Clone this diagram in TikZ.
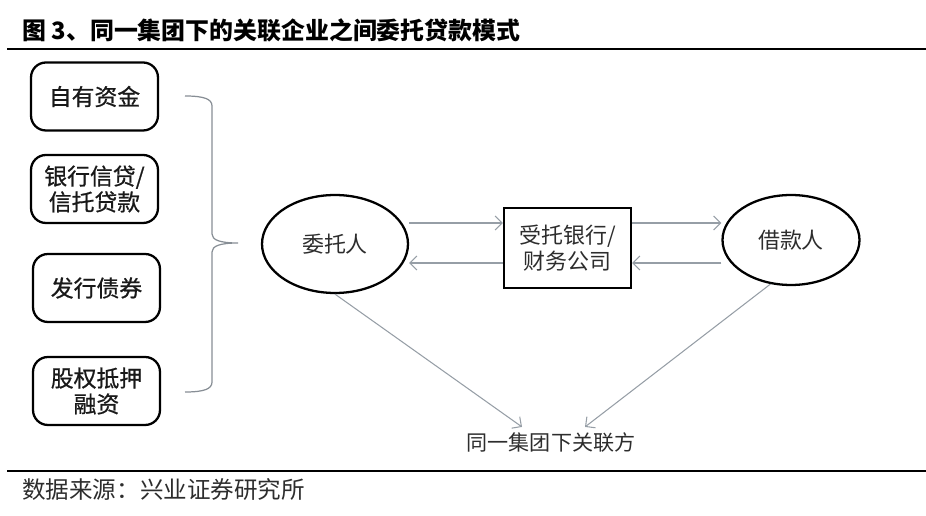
\documentclass[tikz,border=0pt]{standalone}
\usepackage{fontspec}
\newfontfamily\cjk{Noto Sans CJK SC}
\newfontfamily\cjkmid[FakeBold=0.8]{Noto Sans CJK SC}
\usetikzlibrary{arrows.meta, shapes.geometric, calc}

\definecolor{inkgray}{RGB}{45,45,45}
\definecolor{linkgray}{RGB}{150,158,166}

\tikzset{
  source/.style={draw, line width=1.3pt, rounded corners=8.5pt, minimum width=2.54cm,
    minimum height=1.36cm, align=center, text=black!90,
    font=\cjkmid\fontsize{13}{14.7}\selectfont},
  party/.style={draw, ellipse, line width=1.3pt, inner sep=0pt, text=inkgray,
    font=\cjk\fontsize{12.5}{14.7}\selectfont},
  flow/.style={-{Straight Barb[length=4pt,width=8pt]}, draw=linkgray, line width=0.6pt},
}

\begin{document}
\begin{tikzpicture}[x=0.02cm, y=-0.02cm]
    \useasboundingbox (0,0) rectangle (926,516);

    % Title and rules
    \node[anchor=west, inner sep=0pt, font=\cjk\bfseries\fontsize{13.6}{16}\selectfont] (title) at (22,30)
        {图 3、同一集团下的关联企业之间委托贷款模式};
    \draw[line width=1.7pt] (7,49) -- (926,49);
    \draw[line width=1.1pt] (7,471) -- (926,471);
    \node[anchor=west, inner sep=0pt, text=inkgray, font=\cjk\fontsize{13.4}{16}\selectfont] (src) at (22,490)
        {数据来源：兴业证券研究所};

    % Funding sources
    \node[source] (own)  at (94.5,96.5) {自有资金};
    \node[source] (loan) at (94.5,189)  {银行信贷/\\信托贷款};
    \node[source] (bond) at (96.5,288)  {发行债券};
    \node[source] (pled) at (96.5,391)  {股权抵押\\融资};

    % Brace
    \draw[linkgray!90!black, line width=0.7pt] (185,96) .. controls (204,96) and (212,99) .. (212,106)
        -- (212,234) .. controls (212,240) and (220,243) .. (238,243)
        .. controls (220,243) and (212,246) .. (212,252)
        -- (212,382) .. controls (212,389) and (204,392) .. (185,392);

    % Parties
    \node[party, minimum width=2.92cm, minimum height=1.96cm] (wtr) at (335,244) {委托人};
    \node[draw, line width=1.3pt, minimum width=2.54cm, minimum height=1.6cm, align=center,
          text=inkgray, font=\cjk\fontsize{12.5}{14.7}\selectfont] (stb) at (567.5,248) {受托银行/\\财务公司};
    \node[party, minimum width=2.74cm, minimum height=1.8cm] (jkr) at (791,240) {借款人};
    \node[text=inkgray, font=\cjk\fontsize{12}{14.7}\selectfont] (gl) at (551,443) {同一集团下关联方};

    % Flows
    \coordinate (hi) at (0,223);
    \coordinate (lo) at (0,263);
    \draw[flow] (wtr.east |- hi) -- (stb.west |- hi);
    \draw[flow] (stb.west |- lo) -- (wtr.east |- lo);
    \draw[flow] (stb.east |- hi) -- (jkr.west |- hi);
    \draw[flow] (jkr.west |- lo) -- (stb.east |- lo);
    \draw[flow] (wtr.south) -- ($(gl.north)+(-29,0)$);
    \draw[flow] (jkr.-115) -- ($(gl.north)+(34,0)$);
\end{tikzpicture}
\end{document}
